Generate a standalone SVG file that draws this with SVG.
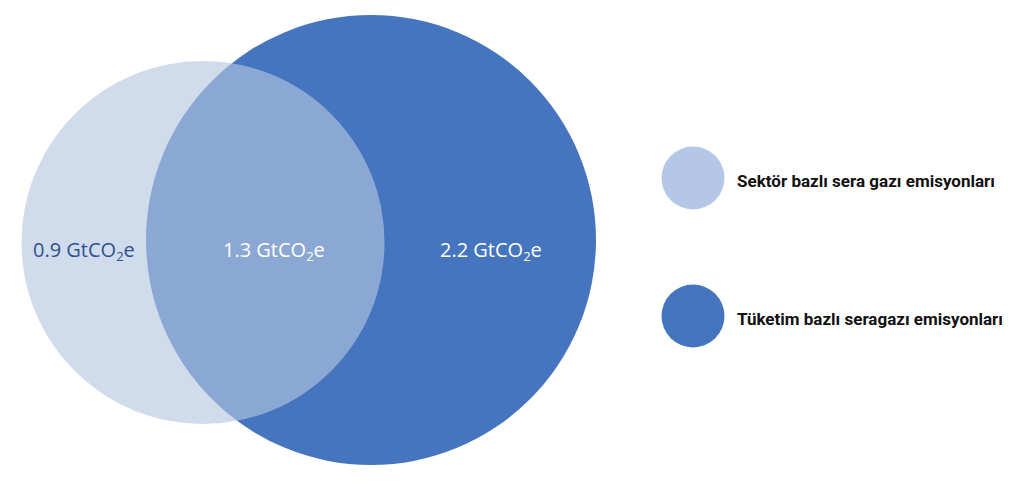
<svg xmlns="http://www.w3.org/2000/svg" width="1034" height="489" viewBox="0 0 1034 489">
  <style>
    .val { font-family: "Open Sans", "Liberation Sans", sans-serif; font-size: 20px; }
    .sub { font-size: 13px; }
    .leg { font-family: "Roboto", "Open Sans", "Liberation Sans", sans-serif; font-size: 16px; font-weight: bold; fill: #111111; }
    .dark { fill: #4675BF; }
    .light { fill: #B4C6E1; }
  </style>
  <rect width="1034" height="489" fill="#FFFFFF"/>
  <g id="consumption-circle">
    <circle class="dark" cx="371" cy="240" r="225"/>
  </g>
  <g id="sector-circle">
    <circle class="light" cx="203" cy="242.5" r="181.5" fill-opacity="0.63"/>
  </g>
  <g id="label-sector-only">
    <text class="val" x="33" y="257" fill="#2F528F">0.9 GtCO<tspan class="sub" dy="4">2</tspan><tspan dy="-4">e</tspan></text>
  </g>
  <g id="label-overlap">
    <text class="val" x="223" y="257" fill="#FFFFFF">1.3 GtCO<tspan class="sub" dy="4">2</tspan><tspan dy="-4">e</tspan></text>
  </g>
  <g id="label-consumption-only">
    <text class="val" x="440" y="257" fill="#FFFFFF">2.2 GtCO<tspan class="sub" dy="4">2</tspan><tspan dy="-4">e</tspan></text>
  </g>
  <g id="legend-sector">
    <circle cx="693" cy="178" r="31.5" fill="#B4C7E7"/>
    <text class="leg" x="737" y="187" textLength="258" lengthAdjust="spacingAndGlyphs">Sektör bazlı sera gazı emisyonları</text>
  </g>
  <g id="legend-consumption">
    <circle class="dark" cx="693" cy="316" r="31.5"/>
    <text class="leg" x="737" y="325" textLength="266" lengthAdjust="spacingAndGlyphs">Tüketim bazlı seragazı emisyonları</text>
  </g>
</svg>
